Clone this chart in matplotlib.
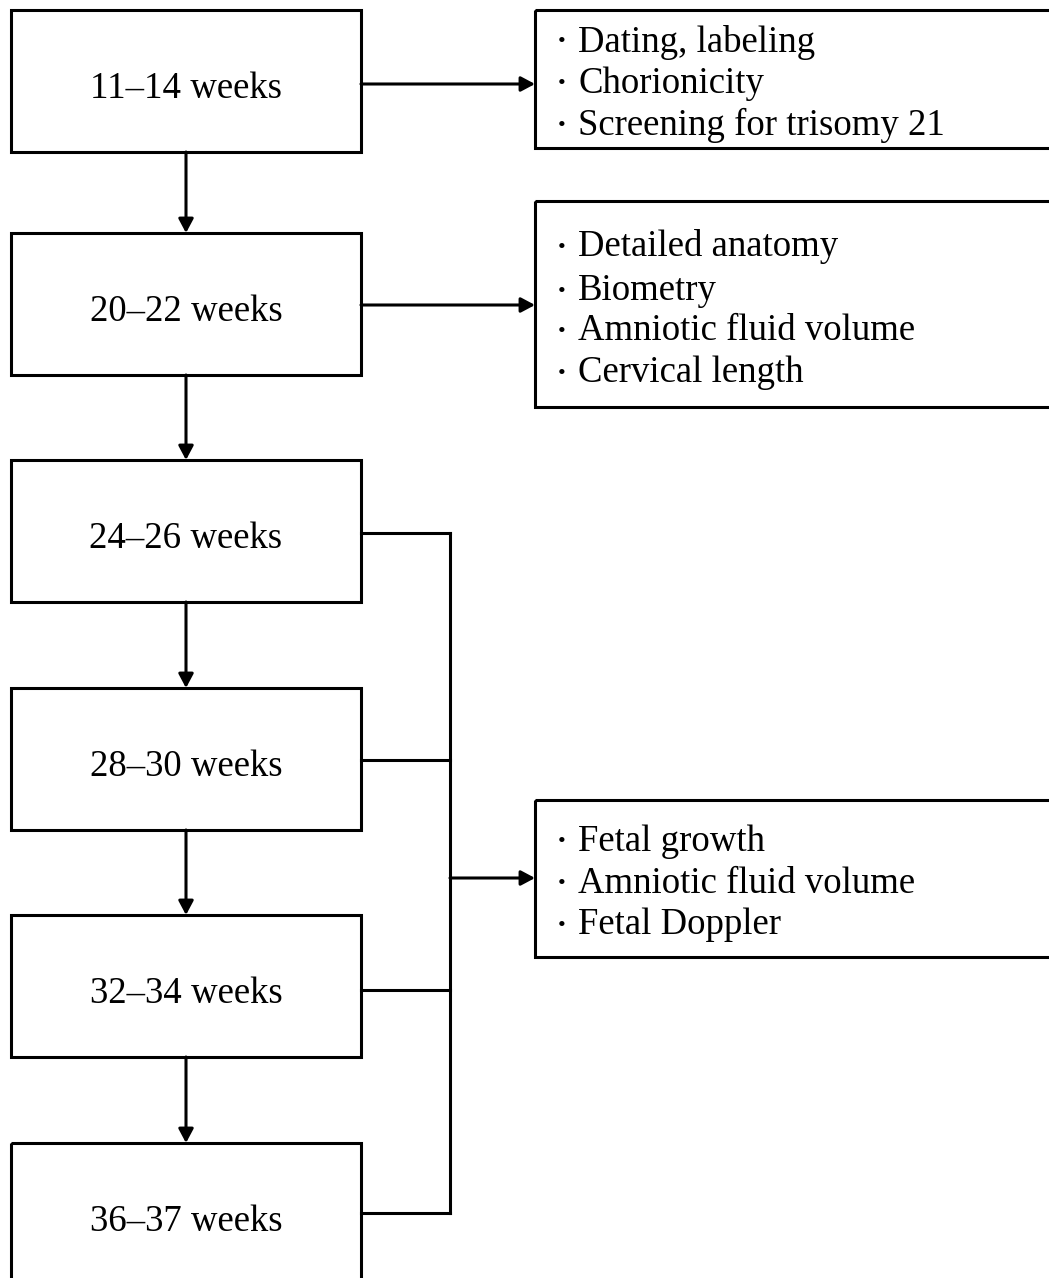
import matplotlib
matplotlib.use("Agg")
import matplotlib.pyplot as plt
from matplotlib.patches import Rectangle, FancyArrowPatch

# ---- content ----
stages = ["11\u201314 weeks", "20\u201322 weeks", "24\u201326 weeks",
          "28\u201330 weeks", "32\u201334 weeks", "36\u201337 weeks"]
items_first = ["Dating, labeling", "Chorionicity", "Screening for trisomy 21"]
items_second = ["Detailed anatomy", "Biometry", "Amniotic fluid volume", "Cervical length"]
items_third = ["Fetal growth", "Amniotic fluid volume", "Fetal Doppler"]

# ---- layout (pixel coordinates) ----
W, H = 1049, 1278
fig = plt.figure(figsize=(W / 100, H / 100), dpi=100)
ax = fig.add_axes([0, 0, 1, 1])
ax.set_xlim(0, W)
ax.set_ylim(H, 0)
ax.axis("off")

LW = 2.2
FONT = "Liberation Serif"
FS = 26.5

left_x0, left_x1 = 11, 361
box_tops = [10, 233, 460, 688, 915, 1143]
box_h = 142
cx = (left_x0 + left_x1) / 2

def arrow(x0, y0, x1, y1):
    a = FancyArrowPatch((x0, y0), (x1, y1), arrowstyle="-|>,head_length=0.6,head_width=0.32",
                        mutation_scale=14, lw=LW, color="black", shrinkA=0, shrinkB=0)
    ax.add_patch(a)

for i, (lab, top) in enumerate(zip(stages, box_tops)):
    ax.add_patch(Rectangle((left_x0, top), left_x1 - left_x0, box_h, fill=False,
                           lw=LW, edgecolor="black"))
    ax.text(cx, top + box_h / 2 + 8, lab, ha="center", va="center",
            fontsize=FS, family=FONT)
    if i < len(stages) - 1:
        arrow(cx, top + box_h, cx, box_tops[i + 1])

# right boxes
right_x0 = 535
right_boxes = [(items_first, 10, 148, [38, 80, 121]),
               (items_second, 201, 407, [243, 287, 327, 369]),
               (items_third, 800, 957, [838, 880, 921])]
for items, t, b, ys in right_boxes:
    ax.add_patch(Rectangle((right_x0, t), 1200, b - t, fill=False, lw=LW, edgecolor="black"))
    for it, y in zip(items, ys):
        ax.text(558, y + 5, "\u2022", ha="left", va="center", fontsize=FS * 0.6, family=FONT)
        ax.text(578, y + 4, it, ha="left", va="center", fontsize=FS, family=FONT)

# horizontal arrows from first two stages
arrow(left_x1, 84, right_x0, 84)
arrow(left_x1, 305, right_x0, 305)

# bracket connector for later stages
bx = 450
conn_ys = [533, 760, 990, 1213]
for y in conn_ys:
    ax.plot([left_x1, bx], [y, y], color="black", lw=LW, solid_capstyle="projecting")
ax.plot([bx, bx], [conn_ys[0], conn_ys[-1]], color="black", lw=LW, solid_capstyle="projecting")
arrow(bx, 878, right_x0, 878)

fig.savefig("out.png", dpi=100, facecolor="white")
